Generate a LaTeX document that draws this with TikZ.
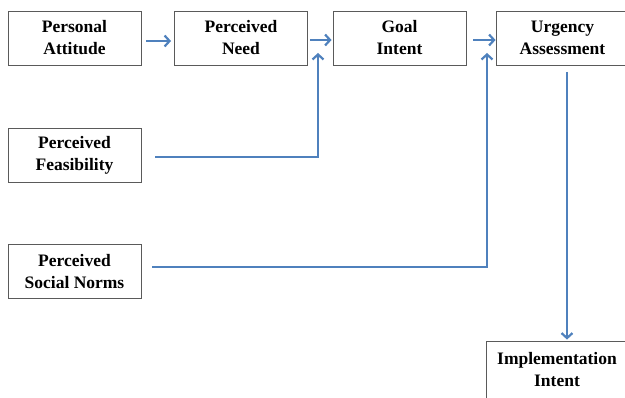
\documentclass[tikz,border=0pt]{standalone}
\usepackage{fontspec}
\setmainfont{Liberation Serif}
\usetikzlibrary{arrows.meta,calc}
\definecolor{arrowblue}{HTML}{4F81BD}
\definecolor{boxgray}{HTML}{5A5A5A}
\begin{document}
\begin{tikzpicture}[x=1pt,y=-1pt,
  box/.style={draw=boxgray,line width=0.9pt,minimum width=133pt,minimum height=54pt,
    inner sep=0pt,align=center,font=\fontsize{17.5}{22}\selectfont\bfseries},
  conn/.style={draw=arrowblue,line width=2.8pt,
    -{Straight Barb[length=5pt,width=11pt,line width=2.2pt]}}]
\useasboundingbox (0,0) rectangle (625,398);
\clip (0,0) rectangle (625,398);
\node[box] (pa) at (74.5,38) {Personal\\Attitude};
\node[box] (pn) at (241,38) {Perceived\\Need};
\node[box] (gi) at (399.5,38) {Goal\\Intent};
\node[box] (ua) at (562.5,38) {Urgency\\Assessment};
\node[box] (pf) at (74.5,155.5) {Perceived\\Feasibility};
\node[box] (ps) at (74.5,271.5) {Perceived\\Social Norms};
\node[box,minimum width=142pt,minimum height=58pt] (ii) at (557,370) {Implementation\\Intent};
\coordinate (j1) at (318,53);
\coordinate (j2) at (487,53);
\coordinate (d1) at (567,72);
% horizontal chain
\draw[conn,shorten <=5pt,shorten >=3pt] ([yshift=-3pt]pa.east) -- ([yshift=-3pt]pn.west);
\draw[conn,shorten <=2pt,shorten >=1pt] ([yshift=-2pt]pn.east) -- ([yshift=-2pt]gi.west);
\draw[conn,shorten <=7pt,shorten >=0pt] ([yshift=-2pt]gi.east) -- ([yshift=-2pt]ua.west);
% side inputs
\draw[conn,shorten <=14pt] ([yshift=-1.5pt]pf.east) -| (j1);
\draw[conn,shorten <=11pt] ([yshift=4.5pt]ps.east) -| (j2);
% down
\draw[conn,shorten >=1pt] (d1) -- (d1 |- ii.north);
\end{tikzpicture}
\end{document}
